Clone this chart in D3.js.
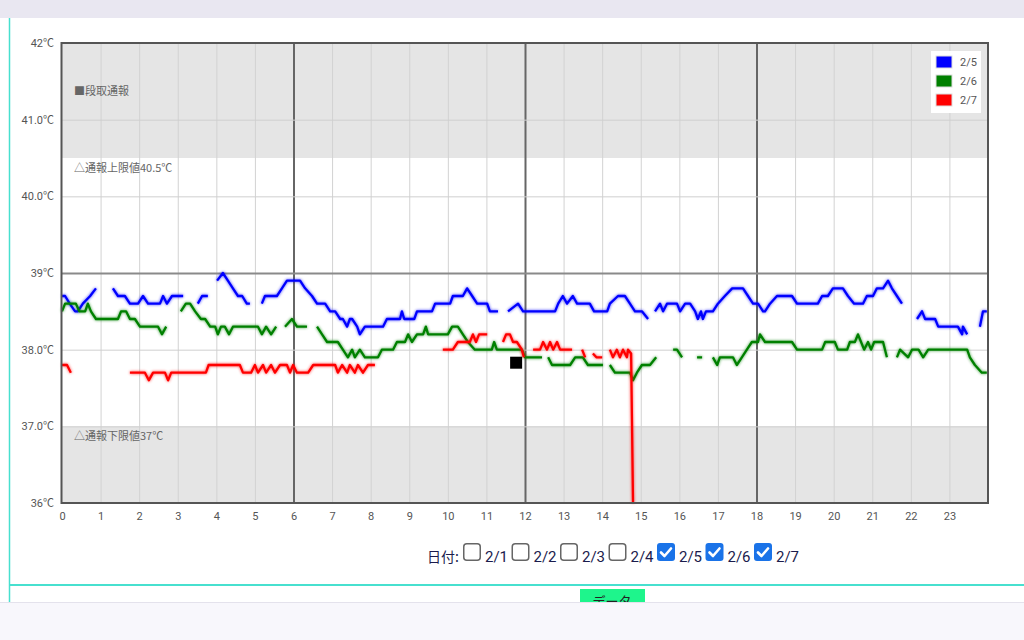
<!DOCTYPE html>
<html><head><meta charset="utf-8">
<script src="https://cdn.jsdelivr.net/npm/d3@7"></script>
<style>
html,body{margin:0;padding:0;background:#fff;overflow:hidden;}
svg{display:block;}
</style></head><body>
<svg id="c" width="1024" height="640"></svg>
<script>
// ---------- data ----------
const xTickLabels = ["0","1","2","3","4","5","6","7","8","9","10","11","12","13","14","15","16","17","18","19","20","21","22","23"];
const yTickValues = [36, 37, 38, 39, 40, 41, 42];
const yTickLabels = ["36℃", "37.0℃", "38.0℃", "39℃", "40.0℃", "41.0℃", "42℃"];
const upperLimit = 40.5;
const lowerLimit = 37.0;
const seriesNames = ["2/5", "2/6", "2/7"];
const seriesColors = ["#0000ff", "#008000", "#ff0000"];
const dateOptions = ["2/1", "2/2", "2/3", "2/4", "2/5", "2/6", "2/7"];
const dateChecked = [false, false, false, false, true, true, true];
const setupMarks = [[11.77, 37.83]];

// [hour, °C]; null = gap
const temps25 = [
 [0,38.7],[0.08,38.7],[0.2,38.6],[0.34,38.5],[0.41,38.5],[0.54,38.6],[0.73,38.7],[0.88,38.8],null,
 [1.32,38.8],[1.45,38.7],[1.63,38.7],[1.76,38.6],[1.97,38.6],[2.10,38.7],[2.23,38.6],[2.54,38.6],[2.62,38.7],[2.72,38.6],[2.85,38.7],[3.14,38.7],null,
 [3.52,38.6],[3.63,38.7],[3.78,38.7],null,
 [4.02,38.9],[4.17,39.0],[4.30,38.9],[4.43,38.8],[4.56,38.7],[4.67,38.7],[4.79,38.6],[4.87,38.6],null,
 [5.18,38.6],[5.26,38.7],[5.57,38.7],[5.70,38.8],[5.83,38.9],[6.17,38.9],[6.30,38.8],[6.48,38.7],[6.61,38.6],[6.82,38.6],[6.95,38.5],[7.08,38.5],[7.21,38.4],[7.28,38.4],[7.39,38.3],[7.46,38.4],[7.52,38.4],[7.65,38.3],[7.72,38.2],[7.85,38.3],[8.32,38.3],[8.42,38.4],[8.76,38.4],[8.81,38.5],[8.87,38.4],[9.13,38.4],[9.20,38.5],[9.59,38.5],[9.67,38.6],[10.06,38.6],[10.13,38.7],[10.39,38.7],[10.50,38.8],[10.63,38.7],[10.76,38.6],[11.02,38.6],[11.09,38.5],[11.30,38.5],null,
 [11.56,38.5],[11.82,38.6],[11.95,38.5],[12.78,38.5],[12.86,38.6],[12.98,38.7],[13.09,38.6],[13.24,38.7],[13.35,38.6],[13.68,38.6],[13.79,38.5],[14.13,38.5],[14.20,38.6],[14.41,38.7],[14.59,38.7],[14.72,38.6],[14.85,38.5],[15.03,38.5],[15.19,38.4],null,
 [15.37,38.5],[15.50,38.6],[15.58,38.5],[15.68,38.6],[15.94,38.6],[16.02,38.5],[16.15,38.6],[16.28,38.6],[16.41,38.5],[16.48,38.4],[16.56,38.5],[16.61,38.4],[16.69,38.5],[16.87,38.5],[17.00,38.6],[17.18,38.7],[17.37,38.8],[17.65,38.8],[17.78,38.7],[17.91,38.6],[18.04,38.6],[18.17,38.5],[18.22,38.5],[18.35,38.6],[18.53,38.7],[18.92,38.7],[19.05,38.6],[19.59,38.6],[19.70,38.7],[19.85,38.7],[19.98,38.8],[20.24,38.8],[20.37,38.7],[20.53,38.6],[20.76,38.6],[20.86,38.7],[21.02,38.7],[21.12,38.8],[21.28,38.8],[21.41,38.9],[21.51,38.8],[21.64,38.7],[21.77,38.6],null,
 [22.16,38.4],[22.29,38.5],[22.37,38.4],[22.63,38.4],[22.71,38.3],[23.22,38.3],[23.33,38.2],[23.35,38.3],[23.46,38.2],null,
 [23.79,38.3],[23.87,38.5],[23.97,38.5]
];
const temps26 = [
 [0,38.5],[0.08,38.6],[0.36,38.6],[0.45,38.5],[0.60,38.5],[0.67,38.6],[0.75,38.5],[0.88,38.4],[1.45,38.4],[1.53,38.5],[1.66,38.5],[1.76,38.4],[1.89,38.4],[2.02,38.3],[2.49,38.3],[2.59,38.2],[2.70,38.3],null,
 [3.08,38.5],[3.21,38.6],[3.32,38.6],[3.45,38.5],[3.60,38.4],[3.71,38.4],[3.84,38.3],[3.97,38.3],[4.04,38.2],[4.12,38.3],[4.22,38.3],[4.33,38.2],[4.43,38.3],[5.08,38.3],[5.18,38.2],[5.29,38.3],[5.42,38.2],[5.55,38.3],null,
 [5.78,38.3],[5.96,38.4],[6.09,38.3],[6.35,38.3],null,
 [6.61,38.3],[6.74,38.2],[6.87,38.1],[7.15,38.1],[7.28,38.0],[7.41,37.9],[7.52,38.0],[7.59,37.9],[7.72,38.0],[7.85,37.9],[8.19,37.9],[8.29,38.0],[8.58,38.0],[8.68,38.1],[8.89,38.1],[8.97,38.2],[9.07,38.1],[9.20,38.2],[9.36,38.2],[9.43,38.3],[9.49,38.2],[10.00,38.2],[10.11,38.3],[10.26,38.3],[10.39,38.2],[10.52,38.1],[10.70,38.0],[11.14,38.0],[11.20,38.1],[11.27,38.0],[11.92,38.0],[12.00,37.9],[12.44,37.9],null,
 [12.60,37.9],[12.70,37.8],[13.17,37.8],[13.30,37.9],[13.50,37.9],[13.63,37.8],[14.02,37.8],null,
 [14.20,37.8],[14.33,37.7],[14.72,37.7],[14.80,37.6],[14.90,37.7],[15.03,37.8],[15.24,37.8],[15.40,37.9],null,
 [15.84,38.0],[15.94,38.0],[16.07,37.9],null,
 [16.46,37.9],[16.59,37.9],null,
 [16.87,37.9],[16.98,37.8],[17.05,37.9],[17.39,37.9],[17.49,37.8],[17.62,37.9],[17.75,38.0],[17.88,38.1],[18.04,38.1],[18.09,38.2],[18.22,38.1],[18.92,38.1],[19.05,38.0],[19.70,38.0],[19.78,38.1],[20.03,38.1],[20.11,38.0],[20.35,38.0],[20.42,38.1],[20.55,38.1],[20.63,38.2],[20.71,38.1],[20.79,38.0],[20.89,38.1],[20.97,38.0],[21.05,38.1],[21.28,38.1],[21.38,37.9],null,
 [21.64,37.9],[21.72,38.0],[21.93,37.9],[22.03,38.0],[22.20,38.0],[22.32,37.9],[22.45,38.0],[23.46,38.0],[23.53,37.9],[23.66,37.8],[23.84,37.7],[23.97,37.7]
];
const temps27 = [
 [0,37.8],[0.13,37.8],[0.23,37.7],null,
 [1.76,37.7],[2.15,37.7],[2.25,37.6],[2.36,37.7],[2.67,37.7],[2.75,37.6],[2.83,37.7],[3.73,37.7],[3.80,37.8],[4.61,37.8],[4.69,37.7],[4.90,37.7],[5.00,37.8],[5.08,37.7],[5.21,37.8],[5.29,37.7],[5.42,37.8],[5.52,37.7],[5.65,37.8],[5.83,37.8],[5.91,37.7],[5.99,37.8],[6.09,37.7],[6.38,37.7],[6.51,37.8],[7.08,37.8],[7.15,37.7],[7.26,37.8],[7.39,37.7],[7.46,37.8],[7.59,37.7],[7.67,37.8],[7.80,37.7],[7.93,37.8],[8.11,37.8],null,
 [9.87,38.0],[10.13,38.0],[10.26,38.1],[10.57,38.1],[10.65,38.2],[10.73,38.1],[10.81,38.2],[11.02,38.2],null,
 [11.43,38.1],[11.51,38.2],[11.61,38.2],[11.69,38.1],[11.79,38.1],[11.92,38.0],[11.97,37.9],null,
 [12.21,38.0],[12.39,38.0],[12.47,38.1],[12.57,38.0],[12.65,38.1],[12.73,38.0],[12.83,38.1],[12.91,38.0],[13.22,38.0],null,
 [13.48,38.0],[13.56,37.9],null,
 [13.76,37.95],[13.85,37.9],[14.00,37.9],null,
 [14.20,38.0],[14.28,37.9],[14.38,38.0],[14.46,37.9],[14.54,38.0],[14.64,37.9],[14.67,38.0],[14.75,37.95],[14.80,36.0]
];
const allSeries = [temps25, temps26, temps27];

// ---------- layout ----------
const svg = d3.select("#c");
const L = 62, R = 988, T = 43, B = 503;
const x = d3.scaleLinear().domain([0, 24]).range([L, R]);
const y = d3.scaleLinear().domain([36, 42]).range([B, T]);
const fontNum = "Roboto, 'Noto Sans CJK JP', sans-serif";
const fontJP = "'Noto Sans CJK JP', Roboto, sans-serif";

// page chrome
svg.append("rect").attr("x",0).attr("y",0).attr("width",1024).attr("height",640).attr("fill","#fff");
svg.append("rect").attr("x",0).attr("y",0).attr("width",1024).attr("height",18).attr("fill","#e9e7f1");
svg.append("line").attr("x1",9.5).attr("x2",9.5).attr("y1",18).attr("y2",602).attr("stroke","#47e0cf").attr("stroke-width",1.5);
svg.append("line").attr("x1",9).attr("x2",1024).attr("y1",585).attr("y2",585).attr("stroke","#47e0cf").attr("stroke-width",2);
svg.append("rect").attr("x",580).attr("y",589).attr("width",65).attr("height",20).attr("fill","#1ef58c");
svg.append("text").attr("x",612).attr("y",606).attr("text-anchor","middle").attr("font-family",fontJP)
  .attr("font-size",13).attr("fill","#222").text("データ");
svg.append("rect").attr("x",0).attr("y",602).attr("width",1024).attr("height",38).attr("fill","#f8f7fc");
svg.append("line").attr("x1",0).attr("x2",1024).attr("y1",602.5).attr("y2",602.5).attr("stroke","#e4e2ec").attr("stroke-width",1);

const defs = svg.append("defs");
const f = defs.append("filter").attr("id","glow").attr("x","-5%").attr("y","-5%").attr("width","110%").attr("height","110%");
f.append("feGaussianBlur").attr("in","SourceGraphic").attr("stdDeviation",1.7).attr("result","b");
f.append("feComponentTransfer").attr("in","b").attr("result","bf")
  .append("feFuncA").attr("type","linear").attr("slope",0.75);
const fm = f.append("feMerge");
fm.append("feMergeNode").attr("in","bf");
fm.append("feMergeNode").attr("in","SourceGraphic");

// plot background & bands
const g = svg.append("g");
g.append("rect").attr("x",L).attr("y",T).attr("width",R-L).attr("height",B-T).attr("fill","#fff");
g.append("rect").attr("x",L).attr("y",y(42)).attr("width",R-L).attr("height",y(upperLimit)-y(42)).attr("fill","#e5e5e5");
g.append("rect").attr("x",L).attr("y",y(lowerLimit)).attr("width",R-L).attr("height",y(36)-y(lowerLimit)).attr("fill","#e5e5e5");

// vertical grid
const xGrid = g.append("g").attr("transform",`translate(0,${B})`)
  .call(d3.axisBottom(x).tickValues(d3.range(1,24)).tickSize(-(B-T)).tickFormat(""));
xGrid.select(".domain").remove();
xGrid.selectAll(".tick line").attr("stroke", d => d % 6 === 0 ? "#666" : "#d2d2d2")
  .attr("stroke-width", d => d % 6 === 0 ? 2 : 1);

// horizontal grid
const yGrid = g.append("g").attr("transform",`translate(${L},0)`)
  .call(d3.axisLeft(y).tickValues([37,38,39,40,41]).tickSize(-(R-L)).tickFormat(""));
yGrid.select(".domain").remove();
yGrid.selectAll(".tick line").attr("stroke", d => d === 39 ? "#8a8a8a" : "#cfcfcf")
  .attr("stroke-width", d => d === 39 ? 2 : 1);

// annotations
const ann = g.append("g").attr("font-family",fontJP).attr("font-size",11).attr("fill","#666");
ann.append("text").attr("x",74).attr("y",y(41.37)+4).text("■段取通報");
ann.append("text").attr("x",74).attr("y",y(upperLimit)+14).text("△通報上限値40.5℃");
ann.append("text").attr("x",74).attr("y",y(lowerLimit)+14).text("△通報下限値37℃");

// series lines
const line = d3.line().defined(d => d !== null).x(d => x(d[0])).y(d => y(d[1]));
allSeries.forEach((s, i) => {
  g.append("path").datum(s).attr("d", line).attr("fill","none")
    .attr("stroke", seriesColors[i]).attr("stroke-width",2.3)
    .attr("stroke-linejoin","round").attr("stroke-linecap","butt")
    .attr("filter","url(#glow)");
});

// setup marks
g.selectAll(".mark").data(setupMarks).enter().append("rect")
  .attr("x", d => x(d[0]) - 6).attr("y", d => y(d[1]) - 6)
  .attr("width",12).attr("height",12).attr("fill","#000");

// border
g.append("rect").attr("x",L-0.5).attr("y",T).attr("width",R-L+0.5).attr("height",B-T)
  .attr("fill","none").attr("stroke","#555").attr("stroke-width",2);

// axes labels
const yAx = svg.append("g").attr("transform",`translate(${L},0)`)
  .call(d3.axisLeft(y).tickValues(yTickValues).tickSize(0).tickPadding(8)
    .tickFormat((d,i) => yTickLabels[i]));
yAx.select(".domain").remove();
yAx.selectAll("text").attr("font-family",fontNum).attr("font-size",11).attr("fill","#555");

const xAx = svg.append("g").attr("transform",`translate(0,${B})`)
  .call(d3.axisBottom(x).tickValues(d3.range(0,24)).tickSize(0).tickPadding(9)
    .tickFormat((d,i) => xTickLabels[i]));
xAx.select(".domain").remove();
xAx.selectAll("text").attr("font-family",fontNum).attr("font-size",11).attr("fill","#555");

// legend
const lg = svg.append("g");
lg.append("rect").attr("x",931).attr("y",51).attr("width",50).attr("height",62).attr("fill","#fff");
seriesNames.forEach((n, i) => {
  lg.append("rect").attr("x",936).attr("y",56 + i*19).attr("width",16).attr("height",12)
    .attr("fill",seriesColors[i]).attr("stroke","#ddd").attr("stroke-width",1);
  lg.append("text").attr("x",960).attr("y",66 + i*19).attr("font-family",fontNum)
    .attr("font-size",11).attr("fill","#555").text(n);
});

// date selector
const ds = svg.append("g").attr("font-family",fontNum).attr("fill","#1b1b4d");
ds.append("text").attr("x",427).attr("y",562).attr("font-family",fontJP).attr("font-size",14).text("日付:");
dateOptions.forEach((d, i) => {
  const bx = 463 + i*48.5;
  const cb = ds.append("g").attr("transform",`translate(${bx},543)`);
  if (dateChecked[i]) {
    cb.append("rect").attr("width",18).attr("height",18).attr("rx",3).attr("fill","#1a73e8");
    cb.append("path").attr("d","M4 9.5 L7.5 13 L14 5.5").attr("fill","none")
      .attr("stroke","#fff").attr("stroke-width",2.6).attr("stroke-linecap","round").attr("stroke-linejoin","round");
  } else {
    cb.append("rect").attr("x",0.75).attr("y",0.75).attr("width",16.5).attr("height",16.5).attr("rx",3)
      .attr("fill","#fff").attr("stroke","#666").attr("stroke-width",1.5);
  }
  ds.append("text").attr("x",bx + 22).attr("y",562).attr("font-size",15).text(d);
});
</script>
</body></html>
